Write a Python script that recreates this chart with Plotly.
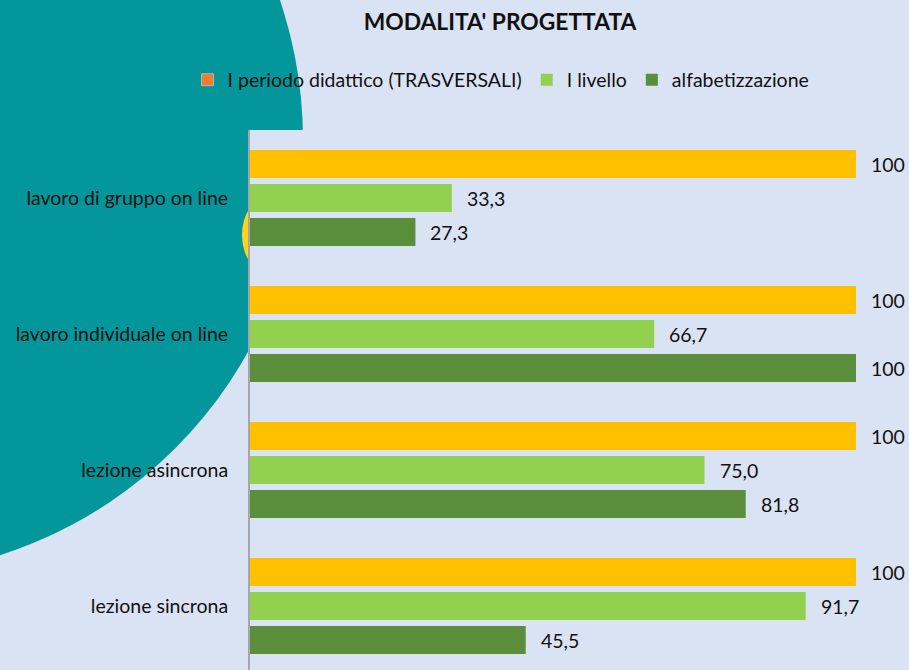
import plotly.graph_objects as go

categories = ["lavoro di gruppo on line", "lavoro individuale on line", "lezione asincrona", "lezione sincrona"]
series_names = ["I periodo didattico (TRASVERSALI)", "I livello", "alfabetizzazione"]
trasversali = [100, 100, 100, 100]
primo_livello = [33.3, 66.7, 75.0, 91.7]
alfabetizzazione = [27.3, 100, 81.8, 45.5]
title_text = "MODALITA' PROGETTATA"

W, H = 909, 670
ML, MT = 250, 130
PW, PH = W - ML, H - MT
CAT_PX = 136.0

BG = "#DAE3F3"
BAR_COLORS = ["#FFC000", "#92D050", "#5B8E3A"]
LEGEND_COLORS = ["#ED7D31", "#92D050", "#5B8E3A"]
FONT = "Lato"
FS = 19.5
TXT = "#111111"

def fmt(v):
    if v == 100:
        return "100"
    return f"{v:.1f}".replace(".", ",")

def px_x(px):
    return (px - ML) / PW

def px_y(py):
    return (H - py) / PH

ypos = list(range(len(categories)))
all_series = [trasversali, primo_livello, alfabetizzazione]

slot = 34 / CAT_PX
bar_w = 28 / CAT_PX

fig = go.Figure()
for i, (name, vals) in enumerate(zip(series_names, all_series)):
    fig.add_trace(go.Bar(
        x=vals, y=ypos, orientation="h", name=name,
        width=bar_w, offset=(i - 1) * slot - bar_w / 2,
        marker=dict(color=BAR_COLORS[i], line=dict(width=0)),
        showlegend=(i != 0), legendrank=10 + i, hoverinfo="skip",
    ))
# legend-only entry (orange marker as in the original)
fig.add_trace(go.Bar(x=[None], y=[None], orientation="h", name=series_names[0],
                     marker=dict(color=LEGEND_COLORS[0]), legendrank=1, showlegend=True))

annotations = []
for i, vals in enumerate(all_series):
    off = (i - 1) * slot
    for j, v in enumerate(vals):
        annotations.append(dict(
            x=v, y=ypos[j] + off, xref="x", yref="y", text=fmt(v),
            showarrow=False, xanchor="left", yanchor="middle", xshift=13,
            font=dict(family=FONT, size=FS, color=TXT),
        ))

shapes = [
    dict(type="circle", xref="paper", yref="paper", layer="below",
         x0=px_x(-133 - 436), x1=px_x(-133 + 436), y0=px_y(140 + 436), y1=px_y(140 - 436),
         fillcolor="#03979B", line=dict(width=0)),
    dict(type="circle", xref="paper", yref="paper", layer="below",
         x0=px_x(242), x1=px_x(348), y0=px_y(288), y1=px_y(182),
         fillcolor="#FFD21F", line=dict(width=0)),
    # opaque plot area
    dict(type="rect", xref="paper", yref="paper", layer="below",
         x0=0, x1=1, y0=0, y1=1, fillcolor=BG, line=dict(width=0)),
]

fig.update_layout(
    width=W, height=H,
    margin=dict(l=ML, r=0, t=MT, b=0, pad=0),
    paper_bgcolor=BG, plot_bgcolor="rgba(0,0,0,0)",
    barmode="overlay",
    font=dict(family=FONT, size=FS, color=TXT),
    title=dict(text="<b>" + title_text + "</b>", x=500 / W, xanchor="center", xref="container",
               y=1 - 22 / H, yanchor="middle", yref="container",
               font=dict(family=FONT, size=22.8, color=TXT)),
    legend=dict(orientation="h", x=px_x(501), xanchor="center", y=px_y(80), yanchor="middle",
                bgcolor="rgba(0,0,0,0)", font=dict(family=FONT, size=FS, color=TXT),
                traceorder="normal"),
    xaxis=dict(range=[0, 100 * PW / 606], visible=False, showgrid=False, zeroline=False, fixedrange=True),
    yaxis=dict(range=[-0.5 + PH / CAT_PX, -0.5], tickmode="array", tickvals=ypos, ticktext=categories,
               showline=True, linecolor="#A6A6A6", linewidth=2, showgrid=False, zeroline=False,
               ticks="", ticklabelstandoff=16, tickfont=dict(family=FONT, size=FS, color=TXT)),
    shapes=shapes, annotations=annotations, showlegend=True,
)

fig.write_html("out.html", config={"displayModeBar": False},
               post_script="document.body.style.margin='0px';document.body.style.background='" + BG + "';")
